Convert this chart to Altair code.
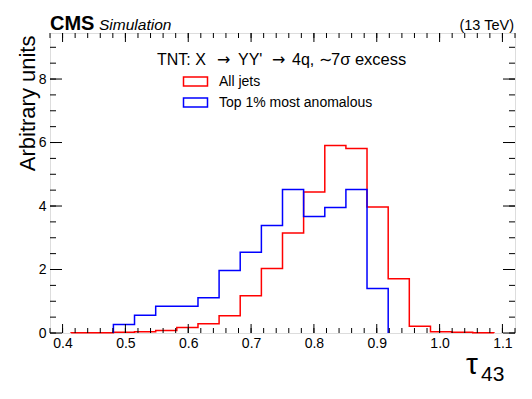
import altair as alt
import pandas as pd

# ---- data ----
bin_edges = [0.38, 0.4136, 0.4473, 0.4809, 0.5145, 0.5482, 0.5818, 0.6155, 0.6491,
             0.6827, 0.7164, 0.75, 0.7836, 0.8173, 0.8509, 0.8845, 0.9182, 0.9518,
             0.9855, 1.0191, 1.0527, 1.0864, 1.12]
all_jets = [0.0, 0.01, 0.01, 0.02, 0.04, 0.08, 0.17, 0.29, 0.54, 1.17, 2.03, 3.15,
            4.44, 5.91, 5.81, 3.97, 1.71, 0.21, 0.04, 0.02, 0.01, 0.0]
top1 = [0.0, 0.0, 0.0, 0.27, 0.56, 0.84, 0.84, 1.11, 1.97, 2.54, 3.39, 4.52,
        3.67, 3.95, 4.52, 1.40, 0.0, 0.0, 0.0, 0.0, 0.0, 0.0]
series_names = ["All jets", "Top 1% most anomalous"]
series_colors = ["#ff0000", "#0000ff"]
x_major = [0.4, 0.5, 0.6, 0.7, 0.8, 0.9, 1.0, 1.1]
y_major = [0, 2, 4, 6, 8]
x_minor = [round(0.38 + 0.02 * i, 2) for i in range(38)]
y_minor = [0.5 * i for i in range(19)]

W, H = 465, 300
XDOM = [0.38, 1.12]
YDOM = [0, 9.45]
FONT = "Liberation Sans"


def step_rows(name, vals):
    nz = [i for i, v in enumerate(vals) if v > 0]
    lo, hi = nz[0], nz[-1]
    rows = [(bin_edges[lo], 0.0)]
    for i in range(lo, hi + 1):
        rows.append((bin_edges[i], vals[i]))
    rows.append((bin_edges[hi + 1], vals[hi]))
    rows.append((bin_edges[hi + 1], 0.0))
    return [{"x": x, "y": y, "series": name, "idx": k} for k, (x, y) in enumerate(rows)]


df = pd.DataFrame(step_rows(series_names[0], all_jets) + step_rows(series_names[1], top1))

xs = alt.Scale(domain=XDOM, nice=False, zero=False)
ys = alt.Scale(domain=YDOM, nice=False, zero=True)

lines = alt.Chart(df).mark_line(interpolate="step-after", strokeWidth=1.5).encode(
    x=alt.X("x:Q", scale=xs, axis=alt.Axis(
        values=x_major, format=".1f", title=None, ticks=False, domain=False, grid=False,
        labelFont=FONT, labelFontSize=14, labelColor="black", labelPadding=3)),
    y=alt.Y("y:Q", scale=ys, axis=alt.Axis(
        values=y_major, format="d", title="Arbitrary units", ticks=False, domain=False,
        grid=False, labelFont=FONT, labelFontSize=14, labelColor="black", labelPadding=4,
        titleFont=FONT, titleFontSize=22, titleFontWeight="normal", titleColor="black",
        titleAngle=270, titleAlign="right", titleBaseline="alphabetic",
        titleX=-16, titleY=2)),
    color=alt.Color("series:N", scale=alt.Scale(domain=series_names, range=series_colors),
                    legend=alt.Legend(
                        title=None, orient="none", legendX=137, legendY=40,
                        symbolType="M-1.6,-0.6H1.6V0.6H-1.6Z", symbolSize=225,
                        symbolStrokeWidth=1.5, symbolFillColor="transparent",
                        labelFont=FONT, labelFontSize=14, labelColor="black",
                        labelOffset=15, rowPadding=5, padding=0)),
    order=alt.Order("idx:Q"),
    detail="series:N",
)

xt_major = pd.DataFrame({"v": x_major})
xt_minor = pd.DataFrame({"v": x_minor})
yt_major = pd.DataFrame({"v": y_major})
yt_minor = pd.DataFrame({"v": y_minor})


def xticks(data, L):
    bot = alt.Chart(data).mark_rule(color="black", strokeWidth=1).encode(
        x=alt.X("v:Q", scale=xs), y=alt.value(H), y2=alt.value(H - L))
    top = alt.Chart(data).mark_rule(color="black", strokeWidth=1).encode(
        x=alt.X("v:Q", scale=xs), y=alt.value(0), y2=alt.value(L))
    return [bot, top]


def yticks(data, L):
    left = alt.Chart(data).mark_rule(color="black", strokeWidth=1).encode(
        y=alt.Y("v:Q", scale=ys), x=alt.value(0), x2=alt.value(L))
    right = alt.Chart(data).mark_rule(color="black", strokeWidth=1).encode(
        y=alt.Y("v:Q", scale=ys), x=alt.value(W), x2=alt.value(W - L))
    return [left, right]


one = alt.Data(values=[{}])


def txt(s, x, y, size, align="left", weight="normal", style="normal", font=FONT):
    return alt.Chart(one).mark_text(
        text=s, font=font, fontSize=size, align=align, baseline="alphabetic",
        fontWeight=weight, fontStyle=style, color="black").encode(
        x=alt.value(x), y=alt.value(y))


HY = 32
texts = [
    txt("CMS", 0, -3, 20, weight="bold"),
    txt("Simulation", 49, -3, 15.5, style="italic"),
    txt("(13 TeV)", 464, -3, 14.5, align="right"),
    txt("TNT: X", 107, HY, 16),
    txt("\u2192", 167, HY, 16, font="DejaVu Sans"),
    txt("YY'", 188, HY, 16),
    txt("\u2192", 222, HY, 16, font="DejaVu Sans"),
    txt("4q,", 242, HY, 16),
    txt("\u223c", 269, HY, 16, font="DejaVu Sans"),
    txt("7\u03c3 excess", 281, HY, 16.5),
    txt("\u03c4", 416, 341, 30),
    txt("43", 431, 348, 21),
]

layers = [lines] + xticks(xt_major, 9) + xticks(xt_minor, 5) + yticks(yt_major, 12) + \
    yticks(yt_minor, 6) + texts

chart = alt.layer(*layers).properties(
    width=W, height=H,
    autosize=alt.AutoSizeParams(type="none"),
    padding={"left": 42, "top": 25, "right": 2, "bottom": 60},
).configure_view(stroke="black", strokeWidth=1).configure(background="white")

chart.save("out.html", embed_options={"renderer": "svg", "actions": False})
